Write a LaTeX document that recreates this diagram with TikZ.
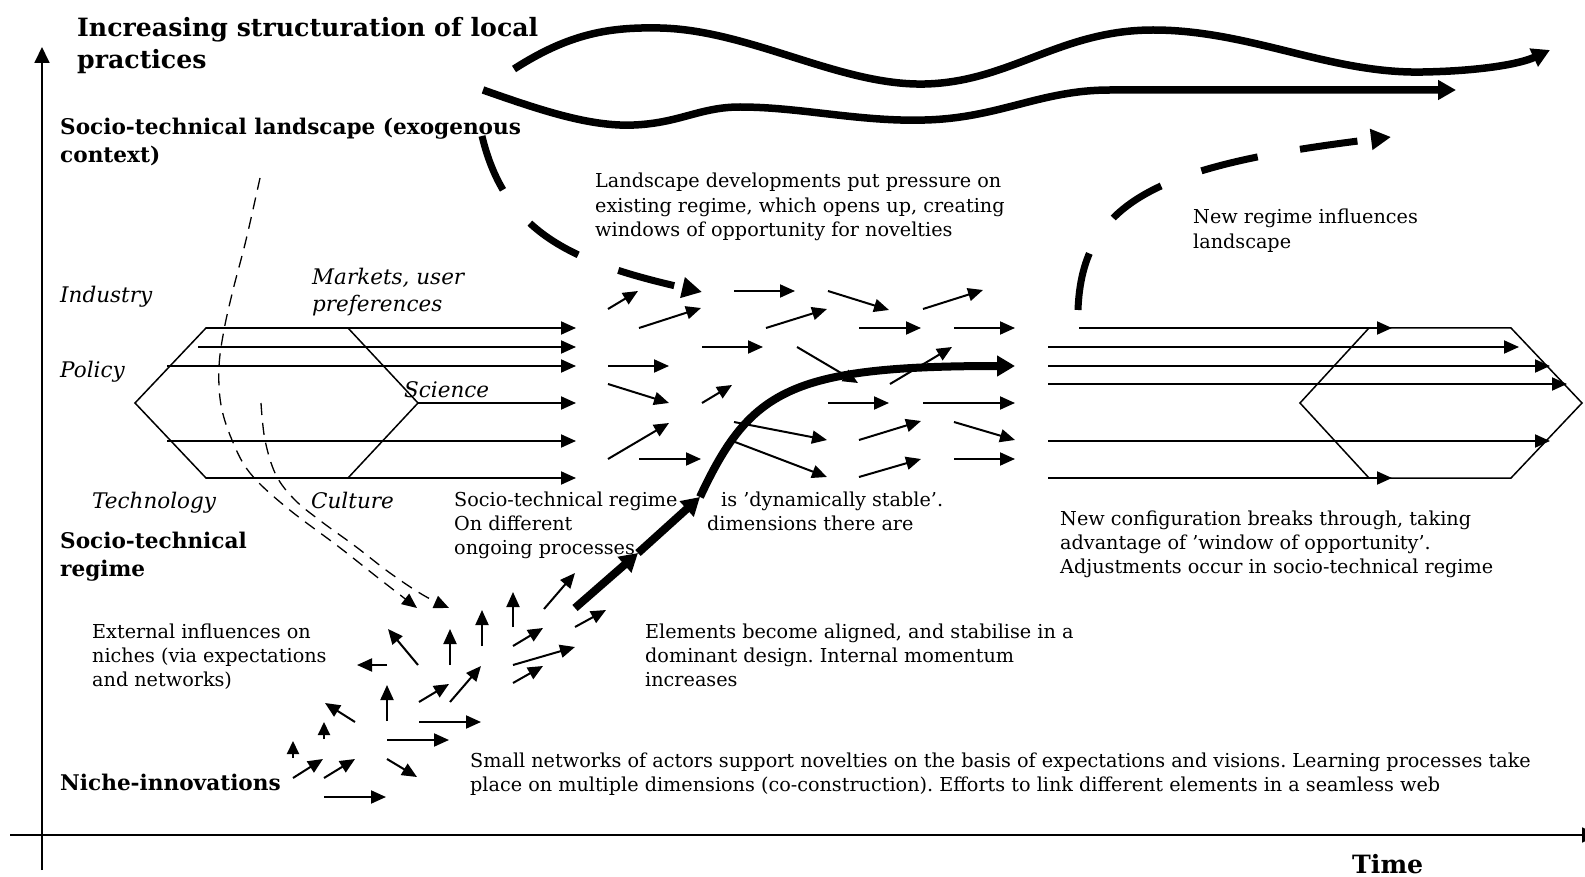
\documentclass[tikz,border=0pt]{standalone}
\usepackage{fontspec}
\setmainfont{DejaVu Serif}
\usetikzlibrary{arrows.meta}
\frenchspacing
\newcommand\txtstack[1]{\begin{tabular}[t]{@{}l@{}}#1\end{tabular}}
\begin{document}
\begin{tikzpicture}[x=1pt,y=-1pt,
  every node/.style={inner sep=0pt,anchor=base west},
  body/.style={font=\fontsize{19.2}{24.3}\selectfont},
  dimlabel/.style={font=\itshape\fontsize{21.5}{27}\selectfont},
  levelhead/.style={font=\bfseries\fontsize{21.6}{28}\selectfont},
  bighead/.style={font=\bfseries\fontsize{25.2}{32}\selectfont},
  axisline/.style={line width=1.8pt,-{Triangle[length=16pt,width=15pt]}},
  arr/.style={line width=2pt,-{Triangle[length=15pt,width=13pt]}},
  hexline/.style={line width=1.5pt,line join=miter},
  thickarr/.style={line width=8pt,-{Triangle[length=18pt,width=20pt]}},
  wave/.style={line width=7.5pt,-{Triangle[length=18pt,width=19pt]}},
  bigdash/.style={line width=7pt,dash pattern=on 58pt off 43pt,-{Triangle[length=20pt,width=20pt]}},
  thindash/.style={line width=1.3pt,dash pattern=on 12pt off 8pt,-{Triangle[length=15pt,width=13pt]}}
]
\useasboundingbox (0,0) rectangle (1585,877);

% axes
\draw[axisline] (42,870) -- (42,47);
\draw[axisline] (10,835) -- (1598,835);
\node[bighead] (time) at (1352,873) {Time};

% headings
\node[bighead] (structuration) at (77,37) {\txtstack{Increasing structuration of local\\practices}};
\node[levelhead] (landscape) at (60,135) {\txtstack{Socio-technical landscape (exogenous\\context)}};
\node[levelhead] (regime) at (60,548) {\txtstack{Socio-technical\\regime}};
\node[levelhead] (niche) at (60,790) {Niche-innovations};

% regime dimensions
\node[dimlabel] (industry) at (60,303) {Industry};
\node[dimlabel] (policy) at (60,377) {Policy};
\node[dimlabel] (technology) at (92,508) {Technology};
\node[dimlabel] (culture) at (311,508) {Culture};
\node[dimlabel] (science) at (404,397) {Science};
\node[dimlabel] (markets) at (312,285) {\txtstack{Markets, user\\preferences}};

% explanatory texts
\node[body] (pressure) at (595,188) {\txtstack{Landscape developments put pressure on\\existing regime, which opens up, creating\\windows of opportunity for novelties}};
\node[body] (influence) at (1193,224) {\txtstack{New regime influences\\landscape}};
\node[body] (regimetext) at (454,506) {\txtstack{Socio-technical regime\\On different\\ongoing processes}};
\node[body] (stable) at (721,506) {is ’dynamically stable’.};
\node[body] (dimensions) at (707,530) {dimensions there are};
\node[body] (breakthrough) at (1060,525) {\txtstack{New configuration breaks through, taking\\advantage of ’window of opportunity’.\\Adjustments occur in socio-technical regime}};
\node[body] (external) at (92,638) {\txtstack{External influences on\\niches (via expectations\\and networks)}};
\node[body] (aligned) at (645,638) {\txtstack{Elements become aligned, and stabilise in a\\dominant design. Internal momentum\\increases}};
\node[body] (networks) at (470,767) {\txtstack{Small networks of actors support novelties on the basis of expectations and visions. Learning processes take\\place on multiple dimensions (co-construction). Efforts to link different elements in a seamless web}};

% landscape developments
\draw[wave] (514,69) .. controls (570,33) and (610,27) .. (660,28)
  .. controls (750,30) and (840,86) .. (925,84)
  .. controls (1010,82) and (1060,30) .. (1153,30)
  .. controls (1250,30) and (1330,74) .. (1423,72)
  .. controls (1480,71) and (1520,64) .. (1550,50);
\draw[wave] (483,90) .. controls (540,110) and (590,127) .. (634,125)
  .. controls (680,123) and (700,107) .. (740,107)
  .. controls (800,107) and (860,122) .. (925,120)
  .. controls (1000,118) and (1040,90) .. (1110,90) -- (1456,90);

% landscape pressure on the regime, and new regime feeding back
\draw[bigdash] (482,136) .. controls (505,232) and (570,262) .. (702,292);
\draw[bigdash] (1078,310) .. controls (1082,200) and (1160,165) .. (1391,137);

% existing regime
\draw[hexline] (135,403) -- (206,328) -- (348,328) -- (418,403) -- (348,478) -- (206,478) -- cycle;
\foreach \xa/\ya in {206/328,198/347,167/366,418/403,167/441,206/478}
  \draw[arr] (\xa,\ya) -- (576,\ya);

% regime opening up
\foreach \xa/\ya/\xb/\yb in {608/309/638/291, 639/328/701/308, 734/291/795/291,
  828/291/889/310, 923/309/983/290, 766/328/827/309, 859/328/921/328,
  954/328/1015/328, 702/347/763/347, 797/347/858/383, 608/366/669/366,
  608/384/669/403, 702/403/732/385, 890/384/952/347, 828/403/889/403,
  923/403/1015/403, 608/459/669/423, 639/459/701/459, 734/422/827/440,
  735/442/827/477, 859/440/921/421, 859/477/921/459, 954/422/1015/440,
  954/459/1015/459}
  \draw[arr] (\xa,\ya) -- (\xb,\yb);

% new regime
\draw[hexline] (1300,403) -- (1369,328) -- (1511,328) -- (1582,403) -- (1511,478) -- (1369,478) -- cycle;
\draw[arr] (1079,328) -- (1392,328);
\draw[arr] (1048,347) -- (1519,347);
\draw[arr] (1048,366) -- (1550,366);
\draw[arr] (1048,384) -- (1567,384);
\draw[arr] (1048,441) -- (1550,441);
\draw[arr] (1048,478) -- (1392,478);

% external influences on niches
\draw[thindash] plot[smooth,tension=0.6] coordinates {(260,178) (246,240) (233,290) (224,330) (219,367) (221,405) (232,440) (250,473) (286,507) (339,547) (377,577) (417,608)};
\draw[thindash] plot[smooth,tension=0.6] coordinates {(261,403) (265,440) (276,475) (295,500) (322,522) (355,546) (390,573) (423,595) (449,608)};

% niche-innovations
\foreach \xa/\ya/\xb/\yb in {387/665/357/665, 418/665/388/629, 450/665/450/629,
  482/646/482/610, 513/627/513/592, 544/609/575/573, 575/627/606/610,
  513/646/543/628, 513/665/575/647, 513/683/543/666, 419/702/449/684,
  450/702/481/666, 387/721/387/685, 355/722/325/703, 293/778/323/759,
  324/778/355/759, 387/740/449/740, 419/722/481/722, 387/759/417/777,
  324/797/386/797}
  \draw[arr] (\xa,\ya) -- (\xb,\yb);
\draw[line width=2pt,-{Triangle[length=13pt,width=12pt]}] (324,739) -- (324,722);
\draw[line width=2pt,-{Triangle[length=13pt,width=12pt]}] (293,758) -- (293,741);

% breakthrough trajectory
\coordinate (n0) at (575,608);
\coordinate (n1) at (638,553);
\coordinate (n2) at (700,497);
\coordinate (n3) at (1015,366);
\draw[thickarr] (n0) -- (n1);
\draw[thickarr] (n1) -- (n2);
\draw[thickarr] (n2) .. controls (750,390) and (790,366) .. (n3);
\end{tikzpicture}
\end{document}
